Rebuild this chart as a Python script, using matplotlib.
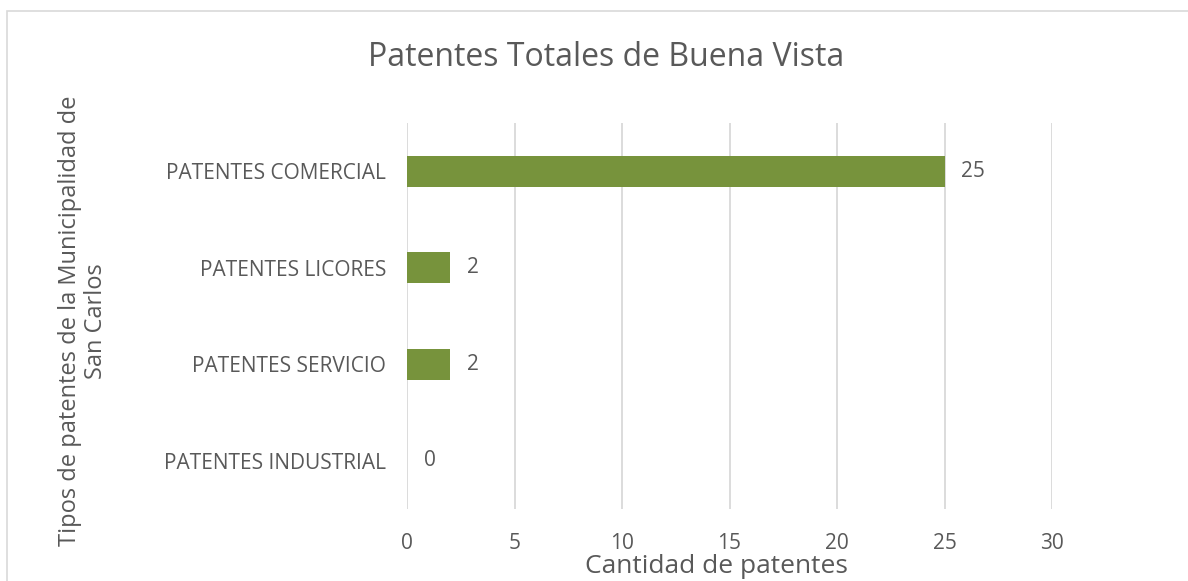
import matplotlib.pyplot as plt
from matplotlib.patches import Rectangle

categories = ["PATENTES INDUSTRIAL", "PATENTES SERVICIO", "PATENTES LICORES", "PATENTES COMERCIAL"]
values = [0, 2, 2, 25]
xticks = [0, 5, 10, 15, 20, 25, 30]

text_color = "#595959"
bar_color = "#77933C"

plt.rcParams['font.family'] = ['Open Sans', 'DejaVu Sans']

fig = plt.figure(figsize=(11.88, 5.81), dpi=100)
ax = fig.add_axes([407 / 1188, 1 - 509 / 581, 645 / 1188, 386 / 581])

ypos = list(range(len(categories)))
ax.barh(ypos, values, height=0.32, color=bar_color, zorder=3)
ax.set_ylim(-0.5, len(categories) - 0.5)
ax.set_xlim(0, 30)
ax.set_xticks(xticks)
ax.set_yticks(ypos)
ax.set_yticklabels(categories)
ax.tick_params(axis='both', length=0, colors=text_color, labelsize=15)
ax.tick_params(axis='y', pad=15)
ax.tick_params(axis='x', pad=17)
ax.grid(axis='x', color="#d9d9d9", linewidth=1.3, zorder=0)
for s in ax.spines.values():
    s.set_visible(False)

# value labels
for y, v in zip(ypos, values):
    ax.annotate(str(v), (v, y), xytext=(12, 0), textcoords='offset points',
                va='center', ha='left', fontsize=15, color=text_color)

ax.set_xlabel("Cantidad de patentes", fontsize=19, color=text_color, va='center')
ax.xaxis.set_label_coords(0.48, -0.148)
fig.text(606 / 1188, 1 - 58 / 581, "Patentes Totales de Buena Vista", fontsize=23,
         color=text_color, ha='center', va='center')
fig.text(83 / 1188, 1 - 321 / 581, "Tipos de patentes de la Municipalidad de\nSan Carlos",
         rotation=90, fontsize=17, color=text_color, ha='center', va='center',
         multialignment='center', linespacing=1.15)

# chart border
fig.patches.append(Rectangle((7 / 1188, -0.1), 1.2, 1 - 11 / 581 + 0.1,
                             transform=fig.transFigure, fill=False,
                             edgecolor="#d9d9d9", linewidth=1.2))

fig.savefig("out.png", dpi=100)
